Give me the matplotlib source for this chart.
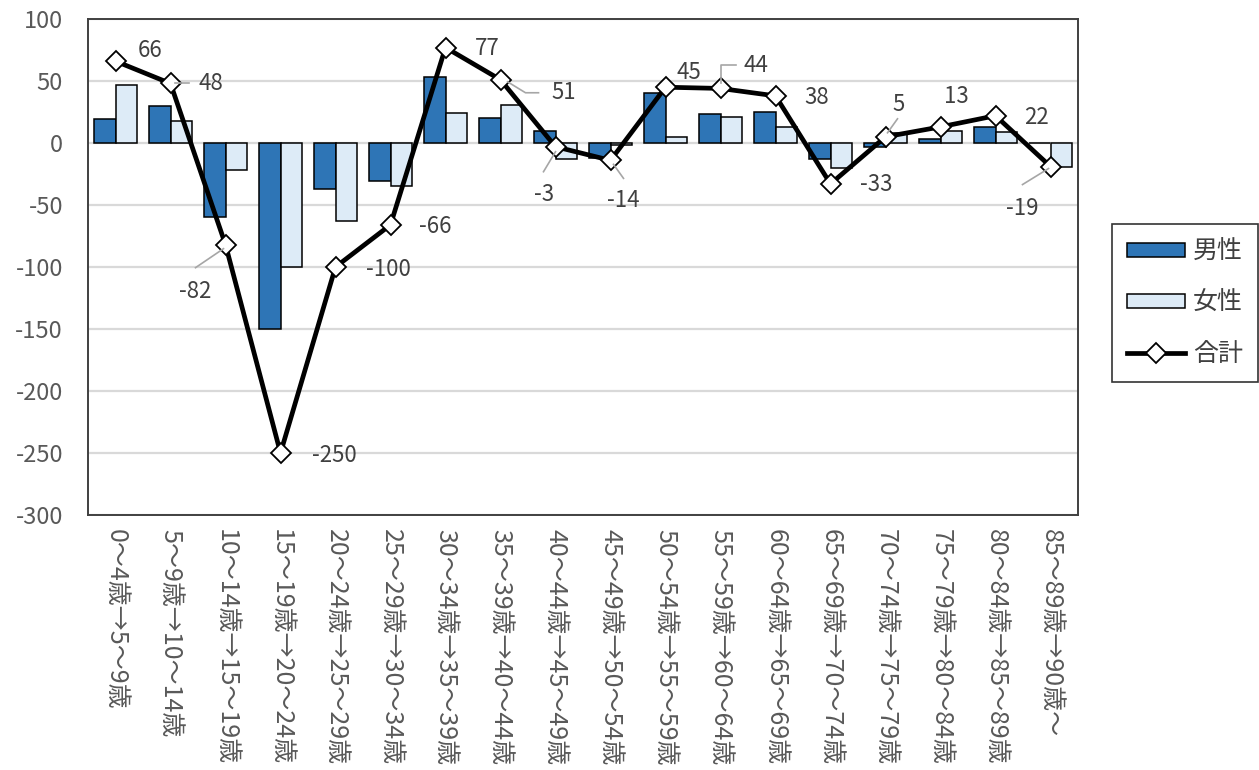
import matplotlib
matplotlib.use("Agg")
import matplotlib.pyplot as plt
from matplotlib.lines import Line2D
from matplotlib.transforms import IdentityTransform
import numpy as np

plt.rcParams['font.family'] = ['Noto Sans CJK JP', 'DejaVu Sans']
plt.rcParams['axes.unicode_minus'] = False

categories = [
    "0～4歳→5～9歳", "5～9歳→10～14歳", "10～14歳→15～19歳", "15～19歳→20～24歳",
    "20～24歳→25～29歳", "25～29歳→30～34歳", "30～34歳→35～39歳", "35～39歳→40～44歳",
    "40～44歳→45～49歳", "45～49歳→50～54歳", "50～54歳→55～59歳", "55～59歳→60～64歳",
    "60～64歳→65～69歳", "65～69歳→70～74歳", "70～74歳→75～79歳", "75～79歳→80～84歳",
    "80～84歳→85～89歳", "85～89歳→90歳～",
]
male = [19, 30, -60, -150, -37, -31, 53, 20, 10, -12, 40, 23, 25, -13, -3, 3, 13, 0]
female = [47, 18, -22, -100, -63, -35, 24, 31, -13, -2, 5, 21, 13, -20, 8, 10, 9, -19]
total = [66, 48, -82, -250, -100, -66, 77, 51, -3, -14, 45, 44, 38, -33, 5, 13, 22, -19]
yticks = [100, 50, 0, -50, -100, -150, -200, -250, -300]

# label placement: text offset (px, screen y down) and optional leader polyline offsets
label_offsets = [
    (35, -11), (40, 0), (-30, 47), (54, 2), (53, 2), (45, 2), (42, 1), (63, 13),
    (-11, 48), (13, 40), (23, -15), (35, -23), (41, 2), (46, 1), (13, -32), (16, -30),
    (41, 2), (-28, 42),
]
leaders = {
    1: [(4, 0), (18, 0)],
    2: [(-2, 4), (-30, 23)],
    7: [(7, 2), (25, 13), (38, 13)],
    8: [(0, 5), (-12, 25)],
    9: [(3, 4), (13, 18)],
    11: [(0, -5), (0, -23), (15, -23)],
    14: [(2, -4), (12, -18)],
    17: [(-2, 2), (-28, 18)],
}

fig = plt.figure(figsize=(12.59, 7.70), dpi=100)
W, H = 1259, 770
ax = fig.add_axes([88 / W, 1 - 515 / H, (1078 - 88) / W, (515 - 19) / H])

x = np.arange(len(categories))
bw = 0.395
h_m = ax.bar(x - bw / 2, male, bw, color="#2E75B6", edgecolor="black", linewidth=1.1,
             label="男性", zorder=2)
h_f = ax.bar(x + bw / 2, female, bw, color="#DDEBF7", edgecolor="black", linewidth=1.1,
             label="女性", zorder=2)
h_t, = ax.plot(x, total, color="black", linewidth=3.4, marker="D", markersize=10,
               markerfacecolor="white", markeredgecolor="black", markeredgewidth=1.3,
               label="合計", zorder=4)

ax.set_xlim(-0.5, len(categories) - 0.5)
ax.set_ylim(-300, 100)
ax.set_yticks(yticks)
ax.set_yticklabels([str(v) for v in yticks])
ax.yaxis.grid(True, color="#D9D9D9", linewidth=1.6, zorder=0)
ax.set_axisbelow(True)
ax.tick_params(axis="y", length=0, labelsize=17, labelcolor="#595959", pad=18)
ax.set_xticks(x)
ax.set_xticklabels(categories, rotation=270, ha="center", va="top",
                   fontsize=18, color="#595959")
ax.tick_params(axis="x", length=0, pad=10)
for s in ax.spines.values():
    s.set_color("#404040")
    s.set_linewidth(1.4)

# data labels with leader lines
for i, v in enumerate(total):
    dx, dy = label_offsets[i]
    ax.annotate(str(v), xy=(i, v), xytext=(dx, -dy), textcoords="offset pixels",
                ha="center", va="center", fontsize=16, color="#404040", zorder=6)
for i, pts in leaders.items():
    bx, by = ax.transData.transform((i, total[i]))
    xs = [bx + p[0] for p in pts]
    ys = [by - p[1] for p in pts]
    fig.add_artist(Line2D(xs, ys, transform=IdentityTransform(), color="#A6A6A6",
                          linewidth=1.2, zorder=5))

leg = fig.legend(handles=[h_m, h_f, h_t], labels=["男性", "女性", "合計"],
                 loc="upper left", bbox_to_anchor=(1112 / W, 1 - 224 / H),
                 fontsize=18, frameon=True, fancybox=False, edgecolor="black",
                 handlelength=2.3, handleheight=0.45, labelspacing=1.0,
                 borderpad=0.6, handletextpad=0.35, borderaxespad=0)
leg.get_frame().set_linewidth(1.2)
for t in leg.get_texts():
    t.set_color("#404040")

fig.savefig("out.png", dpi=100)
